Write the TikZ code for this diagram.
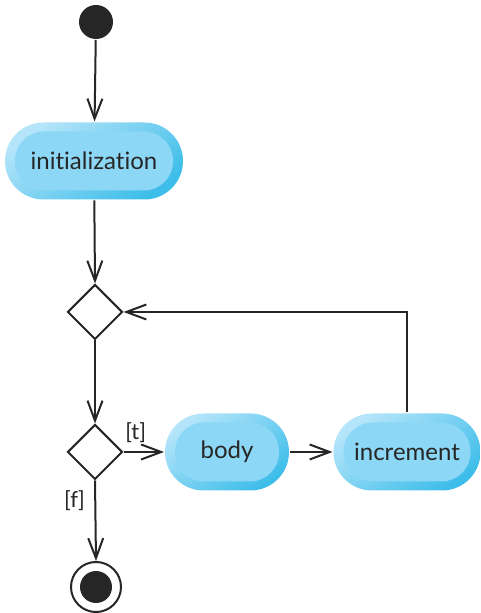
\documentclass[tikz,border=0pt]{standalone}
\usepackage{fontspec}
\setmainfont[Ligatures={NoCommon}]{Lato}
\usetikzlibrary{arrows.meta,shapes.geometric,shapes.misc}
\definecolor{ringlight}{HTML}{B5E5FA}
\definecolor{ringdark}{HTML}{3DBDE9}
\definecolor{actfill}{HTML}{8DD7F6}
\definecolor{ink}{HTML}{262626}
\tikzset{
  actnode/.style = {rounded rectangle, minimum height=77pt, inner sep=0pt,
    font=\fontsize{24}{28}\selectfont, text=ink,
    shading=axis, top color=ringlight, bottom color=ringdark, shading angle=35,
    path picture={\fill[actfill, rounded corners=29pt]
      ([shift={(10pt,9pt)}]path picture bounding box.south west) rectangle
      ([shift={(-10pt,-9pt)}]path picture bounding box.north east);}},% action state
  decnode/.style = {diamond, draw=ink, fill=white, line width=2pt,
    inner sep=0pt, minimum width=55pt, minimum height=55pt},% decision / merge
  guard/.style = {font=\fontsize{22}{26}\selectfont, text=ink},
}

\begin{document}
\begin{tikzpicture}[x=1pt,y=1pt,->,>={Straight Barb[length=20pt,width=15pt]},
  line width=2pt, draw=ink]
\useasboundingbox (0,0) rectangle (481,613);
\node [circle, fill=ink, minimum size=34pt, inner sep=0pt] (start) at (96,591) {};
\node [actnode, minimum width=178pt] (init) at (94,452) {initialization};
\node [decnode] (merge) at (95,301) {};
\node [decnode] (decide) at (95,161) {};
\node [actnode, minimum width=124pt] (body) at (227,161) {body};
\node [actnode, minimum width=147pt] (incr) at (407,161) {increment};
\node [circle, draw=ink, line width=2pt, minimum size=50pt, inner sep=0pt] (final) at (96,26) {};
\fill [ink] (final.center) circle (16pt);

\draw (start) -- (init);
\draw (init) -- (merge.north);
\draw (merge.south) -- (decide.north);
\draw (decide.east) -- node[guard, pos=0.3, above=5pt] {[t]} (body.west);
\draw (body.east) -- (incr.west);
\draw (incr.north) |- (merge.east);
\draw (decide.south) -- node[guard, pos=0.25, left=6pt] {[f]} (final.north);
\end{tikzpicture}
\end{document}
